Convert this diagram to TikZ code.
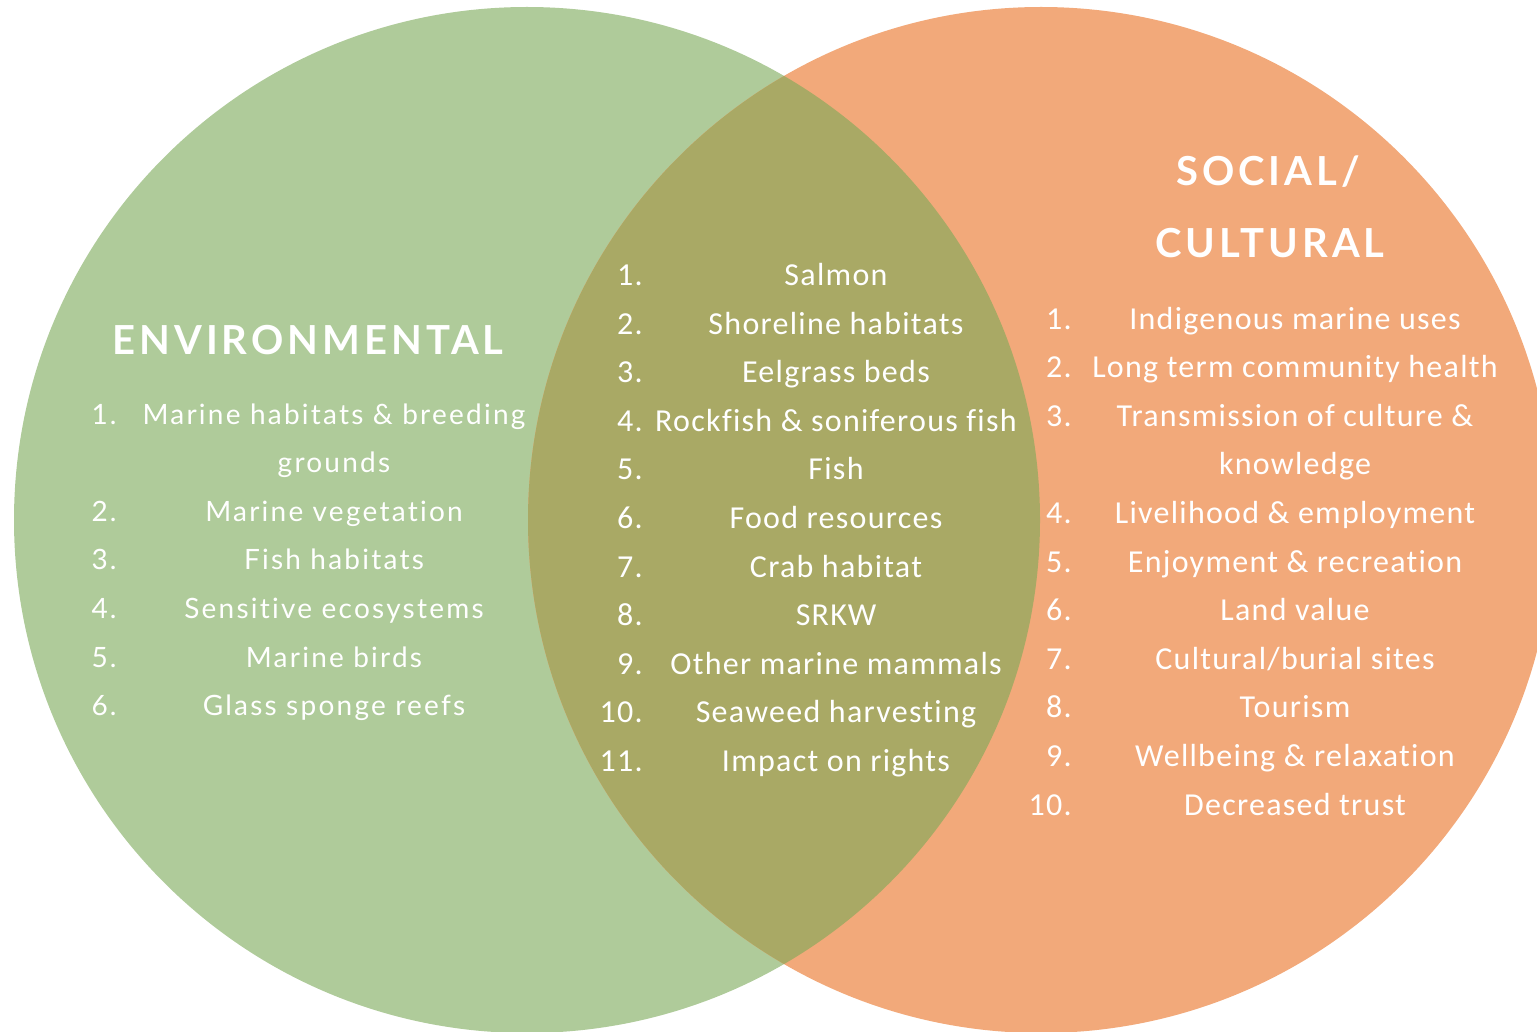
\documentclass[tikz,border=0pt]{standalone}
\usepackage{fontspec}
\usepackage{xcolor}
\newfontfamily\latolist[LetterSpace=8,Ligatures={NoCommon}]{Lato}
\newfontfamily\latohead[LetterSpace=10]{Lato Bold}
\newfontfamily\carlist[LetterSpace=4,Ligatures={NoCommon}]{Carlito}
\definecolor{EnvGreen}{HTML}{AFCB9A}
\definecolor{SocOrange}{HTML}{F2A97A}
\definecolor{BothOlive}{HTML}{A9A965}

\begin{document}
\begin{tikzpicture}[x=0.5pt,y=-0.5pt,
  headtxt/.style={text=white,inner sep=0pt,anchor=base,font=\latohead\fontsize{20pt}{24pt}\selectfont},
  envnum/.style={text=white,inner sep=0pt,anchor=base east,font=\latolist\fontsize{14pt}{17pt}\selectfont},
  envitem/.style={text=white,inner sep=0pt,anchor=base,font=\latolist\fontsize{14pt}{17pt}\selectfont},
  calnum/.style={text=white,inner sep=0pt,anchor=base east,font=\carlist\fontsize{16pt}{19pt}\selectfont},
  calitem/.style={text=white,inner sep=0pt,anchor=base,font=\carlist\fontsize{16pt}{19pt}\selectfont}]
  \clip (0,0) rectangle (1537,1032);
  % circles
  \fill[EnvGreen] (527,520) circle (513);
  \fill[SocOrange] (1041,520) circle (513);
  \begin{scope}
    \clip (527,520) circle (513);
    \fill[BothOlive] (1041,520) circle (513);
  \end{scope}
  % headings
  \node[headtxt] (envhead) at (308,354) {ENVIRONMENTAL};
  \node[headtxt] (sochead1) at (1268,186) {SOCIAL/};
  \node[headtxt] (sochead2) at (1270,258) {CULTURAL};
  % environmental
  \node[envnum] (e1n) at (117,424) {1.};
  \node[envitem] (e1) at (334,424) {Marine habitats \& breeding};
  \node[envitem] (e1b) at (334,472.6) {grounds};
  \node[envnum] (e2n) at (117,521.2) {2.};
  \node[envitem] (e2) at (334,521.2) {Marine vegetation};
  \node[envnum] (e3n) at (117,569.8) {3.};
  \node[envitem] (e3) at (334,569.8) {Fish habitats};
  \node[envnum] (e4n) at (117,618.4) {4.};
  \node[envitem] (e4) at (334,618.4) {Sensitive ecosystems};
  \node[envnum] (e5n) at (117,667) {5.};
  \node[envitem] (e5) at (334,667) {Marine birds};
  \node[envnum] (e6n) at (117,715.6) {6.};
  \node[envitem] (e6) at (334,715.6) {Glass sponge reefs};
  % overlap
  \node[calnum] (b1n) at (643,285.5) {1.};
  \node[calitem] (b1) at (836,285.5) {Salmon};
  \node[calnum] (b2n) at (643,334.1) {2.};
  \node[calitem] (b2) at (836,334.1) {Shoreline habitats};
  \node[calnum] (b3n) at (643,382.7) {3.};
  \node[calitem] (b3) at (836,382.7) {Eelgrass beds};
  \node[calnum] (b4n) at (643,431.3) {4.};
  \node[calitem] (b4) at (836,431.3) {Rockfish \& soniferous fish};
  \node[calnum] (b5n) at (643,479.9) {5.};
  \node[calitem] (b5) at (836,479.9) {Fish};
  \node[calnum] (b6n) at (643,528.5) {6.};
  \node[calitem] (b6) at (836,528.5) {Food resources};
  \node[calnum] (b7n) at (643,577.1) {7.};
  \node[calitem] (b7) at (836,577.1) {Crab habitat};
  \node[calnum] (b8n) at (643,625.7) {8.};
  \node[calitem] (b8) at (836,625.7) {SRKW};
  \node[calnum] (b9n) at (643,674.3) {9.};
  \node[calitem] (b9) at (836,674.3) {Other marine mammals};
  \node[calnum] (b10n) at (643,722.9) {10.};
  \node[calitem] (b10) at (836,722.9) {Seaweed harvesting};
  \node[calnum] (b11n) at (643,771.5) {11.};
  \node[calitem] (b11) at (836,771.5) {Impact on rights};
  % social / cultural
  \node[calnum] (s1n) at (1072,329) {1.};
  \node[calitem] (s1) at (1295,329) {Indigenous marine uses};
  \node[calnum] (s2n) at (1072,377.6) {2.};
  \node[calitem] (s2) at (1295,377.6) {Long term community health};
  \node[calnum] (s3n) at (1072,426.2) {3.};
  \node[calitem] (s3) at (1295,426.2) {Transmission of culture \&};
  \node[calitem] (s3b) at (1295,474.8) {knowledge};
  \node[calnum] (s4n) at (1072,523.4) {4.};
  \node[calitem] (s4) at (1295,523.4) {Livelihood \& employment};
  \node[calnum] (s5n) at (1072,572) {5.};
  \node[calitem] (s5) at (1295,572) {Enjoyment \& recreation};
  \node[calnum] (s6n) at (1072,620.6) {6.};
  \node[calitem] (s6) at (1295,620.6) {Land value};
  \node[calnum] (s7n) at (1072,669.2) {7.};
  \node[calitem] (s7) at (1295,669.2) {Cultural/burial sites};
  \node[calnum] (s8n) at (1072,717.8) {8.};
  \node[calitem] (s8) at (1295,717.8) {Tourism};
  \node[calnum] (s9n) at (1072,766.4) {9.};
  \node[calitem] (s9) at (1295,766.4) {Wellbeing \& relaxation};
  \node[calnum] (s10n) at (1072,815) {10.};
  \node[calitem] (s10) at (1295,815) {Decreased trust};
\end{tikzpicture}
\end{document}
